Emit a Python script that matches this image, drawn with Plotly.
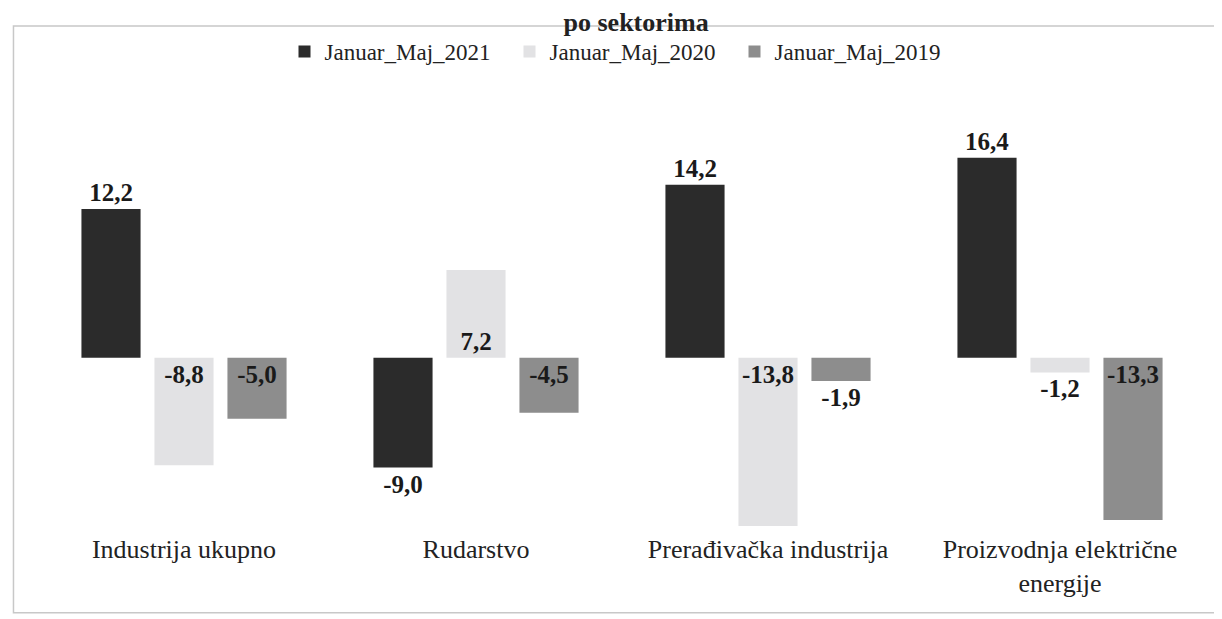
import plotly.graph_objects as go

# sectors and growth rates (%)
categories = ["Industrija ukupno", "Rudarstvo", "Prerađivačka industrija",
              "Proizvodnja električne<br>energije"]
series_names = ["Januar_Maj_2021", "Januar_Maj_2020", "Januar_Maj_2019"]
values_2021 = [12.2, -9.0, 14.2, 16.4]
values_2020 = [-8.8, 7.2, -13.8, -1.2]
values_2019 = [-5.0, -4.5, -1.9, -13.3]

colors = ["#2b2b2b", "#e2e2e4", "#8d8d8d"]
text_positions = [
    ["outside", "outside", "outside", "outside"],
    ["inside", "inside", "inside", "outside"],
    ["inside", "inside", "outside", "inside"],
]

fig = go.Figure()
for name, vals, col, pos in zip(series_names, [values_2021, values_2020, values_2019],
                                colors, text_positions):
    fig.add_trace(go.Bar(
        x=categories, y=vals, name=name,
        marker=dict(color=col, line=dict(width=0)),
        texttemplate="<b>%{y:.1f}</b>", textposition=pos,
        insidetextanchor="start",
        textfont=dict(family="Liberation Serif", size=25, color="#1a1a1a"),
        cliponaxis=False,
    ))

fig.update_layout(
    width=1222, height=619,
    paper_bgcolor="white", plot_bgcolor="white",
    margin=dict(l=30, r=24, t=120, b=96),
    separators=",.",
    barmode="group", bargap=0.25, bargroupgap=0.19,
    font=dict(family="Liberation Serif", size=20, color="#222222"),
    title=dict(text="<b>po sektorima</b>", x=0.514, xanchor="center",
               y=0.978, yanchor="middle", font=dict(size=26)),
    legend=dict(orientation="h", x=0.5, xanchor="center", y=1.19, yanchor="middle",
                font=dict(size=23), entrywidth=180, itemwidth=30,
                bgcolor="rgba(0,0,0,0)"),
    xaxis=dict(showgrid=False, showline=False, ticks="", tickfont=dict(size=26)),
    yaxis=dict(range=[-14.2, 18.85], visible=False, zeroline=False, showgrid=False),
    shapes=[dict(type="rect", xref="paper", yref="paper",
                 x0=-0.021, x1=1.017, y0=-0.203, y1=1.253,
                 line=dict(color="#c8c8c8", width=1.5))],
)

fig.write_html("out.html")
